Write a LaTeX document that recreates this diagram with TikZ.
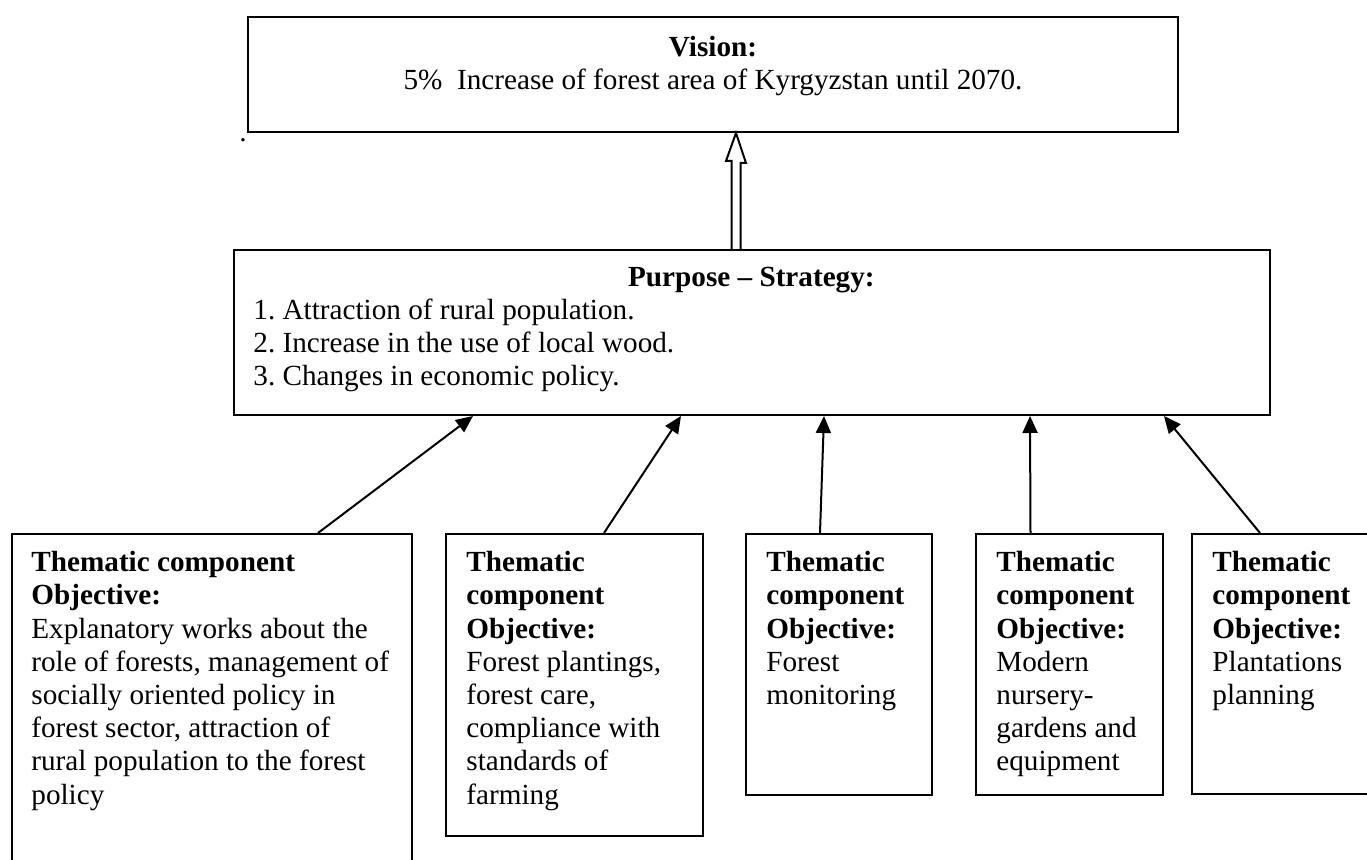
\documentclass[tikz,border=0pt]{standalone}
\usepackage{fontspec}
\setmainfont{Liberation Serif}
\usetikzlibrary{arrows.meta,positioning,calc}
\frenchspacing

\begin{document}
\begin{tikzpicture}[x=0.5pt, y=-0.5pt,
    frame/.style={rectangle, draw, line width=1pt, inner sep=0pt, anchor=north west},
    txt/.style={align=left, inner sep=0pt, anchor=north west, font=\fontsize{14.6}{16.6}\selectfont},
    arr/.style={-{Triangle[length=8.5pt, width=7.5pt]}, line width=1pt},
]
    \useasboundingbox (0,0) rectangle (1367,860);
    \clip (0,0) rectangle (1367,860);
    % Vision and strategy
    \node[frame, minimum width=465pt, minimum height=57.5pt] (vision) at (247,16) {};
    \node[frame, minimum width=518pt, minimum height=82.5pt] (purpose) at (233,249) {};
    \node[txt, anchor=north, align=center] (vtext) at ($(vision.north)+(0,20)$)
        {\textbf{Vision:}\\5\% \ Increase of forest area of Kyrgyzstan until 2070.};
    \node[txt, text width=498pt] (ptext) at ($(purpose.north west)+(20,17.5)$)
        {\spaceskip=0pt\xspaceskip=0pt
         \makebox[\linewidth]{\textbf{Purpose -- Strategy:}}\\
         1. Attraction of rural population.\\
         2. Increase in the use of local wood.\\
         3. Changes in economic policy.};
    \node[txt, anchor=base] (dot) at (243,142) {.};
    % Thematic components
    \node[frame, minimum width=200pt, minimum height=170pt] (c1) at (11,533) {};
    \node[frame, minimum width=128.5pt, minimum height=151pt] (c2) at (445,533) {};
    \node[frame, minimum width=93pt, minimum height=130.5pt] (c3) at (745,533) {};
    \node[frame, minimum width=93.5pt, minimum height=130.5pt] (c4) at (975,533) {};
    \node[frame, minimum width=93.5pt, minimum height=130pt] (c5) at (1191,533) {};
    \node[txt] (t1) at ($(c1.north west)+(20,18)$)
        {\textbf{Thematic component}\\\textbf{Objective:}\\Explanatory works about the\\role of forests, management of\\socially oriented policy in\\forest sector, attraction of\\rural population to the forest\\policy};
    \node[txt] (t2) at ($(c2.north west)+(21,18)$)
        {\textbf{Thematic}\\\textbf{component}\\\textbf{Objective:}\\Forest plantings,\\forest care,\\compliance with\\standards of\\farming};
    \node[txt] (t3) at ($(c3.north west)+(21,18)$)
        {\textbf{Thematic}\\\textbf{component}\\\textbf{Objective:}\\Forest\\monitoring};
    \node[txt] (t4) at ($(c4.north west)+(21,18)$)
        {\textbf{Thematic}\\\textbf{component}\\\textbf{Objective:}\\Modern\\nursery-\\gardens and\\equipment};
    \node[txt] (t5) at ($(c5.north west)+(21,18)$)
        {\textbf{Thematic}\\\textbf{component}\\\textbf{Objective:}\\Plantations\\planning};
    % Hollow arrow up to the vision
    \coordinate (ax) at (736,0);
    \draw[line width=1pt] (purpose.north -| ax) ++(-4.5,0) -- ++(0,-88) -- ++(-5.5,0)
        -- (vision.south -| ax) -- ++(10,30) -- ++(-5.5,0) -- ++(0,88);
    % Components to strategy
    \draw[arr] ($(c1.north)+(106,0)$) -- ($(purpose.south)+(-279,0)$);
    \draw[arr] ($(c2.north)+(29.5,0)$) -- ($(purpose.south)+(-71,0)$);
    \draw[arr] ($(c3.north)+(-19,0)$) -- ($(purpose.south)+(72,0)$);
    \draw[arr] ($(c4.north)+(-39,0)$) -- ($(purpose.south)+(278,0)$);
    \draw[arr] ($(c5.north)+(-25.5,0)$) -- ($(purpose.south)+(412,0)$);
\end{tikzpicture}
\end{document}
